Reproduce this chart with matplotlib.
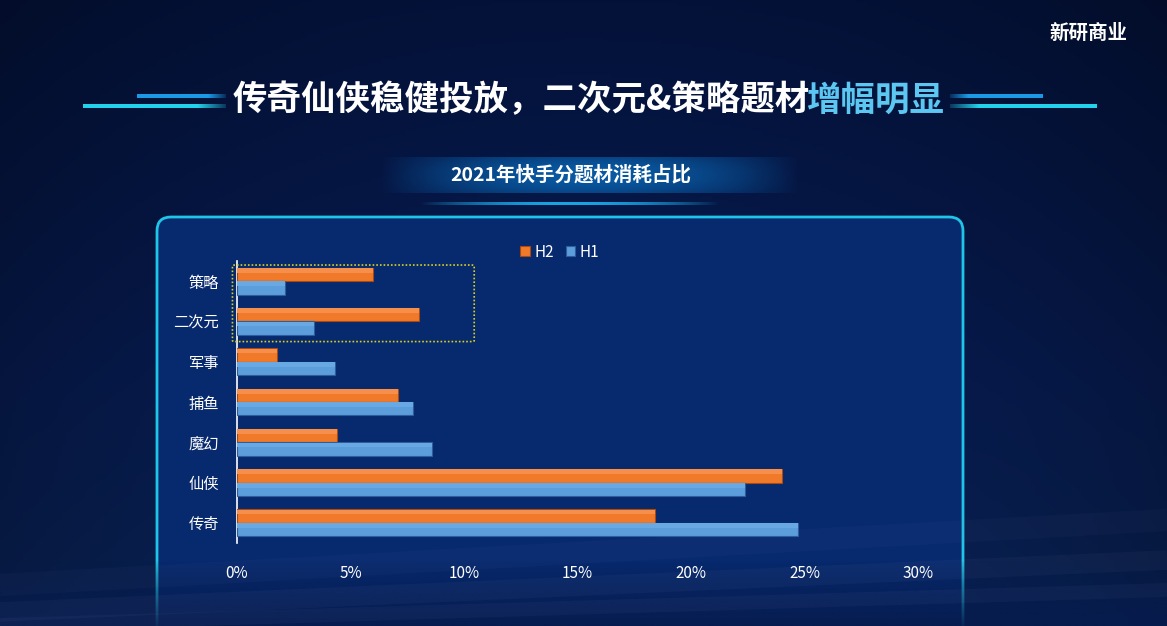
import numpy as np
import matplotlib
matplotlib.use("Agg")
import matplotlib.pyplot as plt
from matplotlib.patches import FancyBboxPatch
from matplotlib.colors import to_rgb

plt.rcParams['font.family'] = ['Noto Sans CJK SC', 'DejaVu Sans']

# data (bottom to top)
categories = ['传奇', '仙侠', '魔幻', '捕鱼', '军事', '二次元', '策略']
h2 = [18.4, 24.0, 4.4, 7.1, 1.75, 8.0, 6.0]
h1 = [24.7, 22.4, 8.6, 7.75, 4.3, 3.4, 2.1]
xticks = [0, 5, 10, 15, 20, 25, 30]
highlight = ['二次元', '策略']

title_main = '传奇仙侠稳健投放，二次元&策略题材'
title_hl = '增幅明显'
subtitle = '2021年快手分题材消耗占比'

W, H = 1167, 626
fig = plt.figure(figsize=(W / 100, H / 100), dpi=100)

# background layer in pixel coords
bg = fig.add_axes([0, 0, 1, 1])
bg.set_xlim(0, W)
bg.set_ylim(H, 0)
bg.axis('off')

yy = np.linspace(0, 1, 200)[:, None]
xx = np.linspace(0, 1, 300)[None, :]
top = np.array(to_rgb('#041239'))
mid = np.array(to_rgb('#071c52'))
bot = np.array(to_rgb('#0a2458'))
t = yy[..., None]
grad = np.where(t < 0.6, top + (mid - top) * (t / 0.6), mid + (bot - mid) * ((t - 0.6) / 0.4))
grad = np.broadcast_to(grad, (200, 300, 3)).copy()
vig = 1 - 0.25 * (np.abs(xx - 0.5) * 2) ** 2
grad = grad * vig[..., None]
bg.imshow(grad, extent=[0, W, H, 0], aspect='auto', zorder=0)

# panel
panel = FancyBboxPatch((157, 217), 806, 440, boxstyle='round,pad=0,rounding_size=14',
                       facecolor='#07296e', edgecolor='#1fc4e6', linewidth=2, zorder=1)
bg.add_patch(panel)

# fade out the bottom of the panel
fade = np.zeros((60, 2, 4))
fade[..., :3] = to_rgb('#061c4e')
fade[..., 3] = np.linspace(0, 0.92, 60)[:, None] ** 0.8
bg.imshow(fade, extent=[0, W, H, 560], aspect='auto', zorder=2)

# faint light streaks near the bottom
for y0, y1, a, w in [(612, 560, 0.05, 14), (625, 590, 0.05, 10), (585, 520, 0.035, 16)]:
    bg.plot([0, W], [y0, y1], color='#9aa0c8', alpha=a, lw=w, zorder=2,
            solid_capstyle='butt')


def glow_line(x0, x1, y, lw, color, fade_right):
    n = 200
    img = np.zeros((1, n, 4))
    img[..., :3] = to_rgb(color)
    a = np.ones(n)
    k = 40
    if fade_right:
        a[-k:] = np.linspace(1, 0.2, k)
    else:
        a[:k] = np.linspace(0.2, 1, k)
    img[0, :, 3] = a
    bg.imshow(img, extent=[x0, x1, y + lw / 2, y - lw / 2], aspect='auto', zorder=3)


# title decorations
glow_line(83, 226, 106, 4, '#22d2ec', True)
glow_line(137, 226, 96, 4, '#1a9ae6', True)
glow_line(950, 1097, 106, 4, '#22d2ec', False)
glow_line(950, 1043, 96, 4, '#1a9ae6', False)

# title: white part, then the highlighted part right after it
tx = bg.text(233, 100, title_main, color='white', fontsize=24.8, fontweight='bold',
             va='center', ha='left', zorder=6)
fig.canvas.draw()
bb = tx.get_window_extent(renderer=fig.canvas.get_renderer())
bg.text(bb.x1 - 4, 100, title_hl, color='#5cc8f2', fontsize=24.8, fontweight='bold',
        va='center', ha='left', zorder=6)

# subtitle band
band = np.zeros((40, 300, 4))
band[..., :3] = to_rgb('#0a66b4')
bx = np.linspace(-1, 1, 300)[None, :]
by = np.linspace(-1, 1, 40)[:, None]
band[..., 3] = np.clip(1 - bx ** 2, 0, 1) * 0.85 * np.clip(1 - 0.3 * by ** 2, 0, 1)
bg.imshow(band, extent=[380, 800, 193, 157], aspect='auto', zorder=3)
line = np.zeros((1, 300, 4))
line[..., :3] = to_rgb('#1aa6e6')
line[0, :, 3] = np.clip(1 - np.linspace(-1, 1, 300) ** 2, 0, 1)
bg.imshow(line, extent=[420, 720, 205, 202], aspect='auto', zorder=3)
bg.text(571, 175, subtitle, color='white', fontsize=14, fontweight='bold',
        va='center', ha='center', zorder=5)

# logo
bg.text(1088, 33, '新研商业', color='white', fontsize=14, fontweight='bold',
        va='center', ha='center', zorder=5)

# chart
ax = fig.add_axes([237 / W, 83 / H, 681 / W, 282 / H])
ax.patch.set_alpha(0)
y = np.arange(len(categories))
bh = 0.335
ax.barh(y + bh / 2, h2, height=bh, color='#f07a2a', edgecolor='#a84a14', linewidth=0.8,
        label='H2', zorder=3)
ax.barh(y - bh / 2, h1, height=bh, color='#5c9ddb', edgecolor='#2d5d9a', linewidth=0.8,
        label='H1', zorder=3)
# top highlight on bars
ax.barh(y + bh * 0.8, h2, height=bh * 0.35, color='#f68e4c', linewidth=0, zorder=4)
ax.barh(y - bh * 0.2, h1, height=bh * 0.35, color='#68a8e3', linewidth=0, zorder=4)

ax.set_xlim(xticks[0], xticks[-1])
ax.set_ylim(-0.5, len(categories) - 0.5)
ax.set_xticks(xticks)
ax.set_xticklabels([f'{v}%' for v in xticks])
ax.set_yticks(y)
ax.set_yticklabels(categories)
ax.tick_params(axis='both', length=0, colors='white', labelsize=11)
ax.tick_params(axis='x', pad=16)
ax.tick_params(axis='y', pad=13)
for s in ['top', 'right', 'bottom']:
    ax.spines[s].set_visible(False)
ax.spines['left'].set_color('white')
ax.spines['left'].set_linewidth(1.2)

# dashed highlight box around 策略 / 二次元
idx = [categories.index(c) for c in highlight]
vals = [max(h1[i], h2[i]) for i in idx]
box = FancyBboxPatch((-0.2, min(idx) - 0.5), max(vals) + 2.65, max(idx) - min(idx) + 0.9,
                     boxstyle='round,pad=0,rounding_size=0.12', facecolor='none',
                     edgecolor='#d8d21c', linestyle=(0, (1, 1.2)), linewidth=1.2,
                     zorder=5, clip_on=False, mutation_aspect=0.2)
ax.add_patch(box)

leg = ax.legend(loc='upper center', bbox_to_anchor=(0.474, 1.11), ncol=2, frameon=False,
                handlelength=0.6, handleheight=0.6, handletextpad=0.3, columnspacing=0.8,
                fontsize=11, labelcolor='white')

fig.savefig('out.png', dpi=100, facecolor='#041239')
